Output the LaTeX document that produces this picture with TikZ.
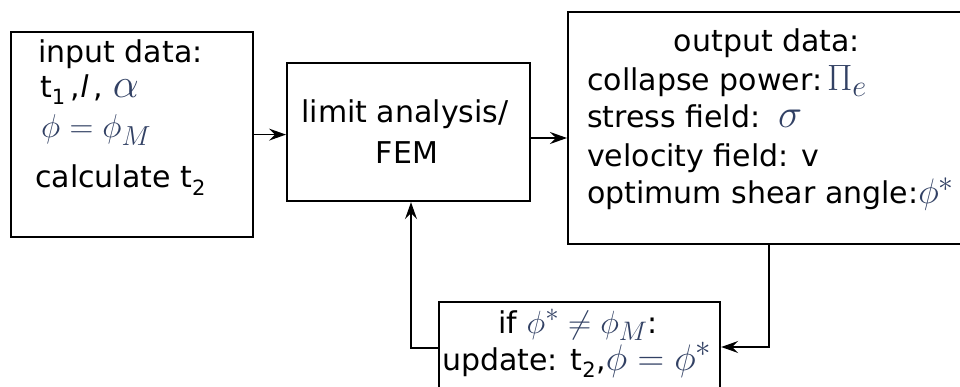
\documentclass[tikz,border=0pt]{standalone}
\usepackage{fontspec}
\setmainfont{DejaVu Sans}
\usetikzlibrary{arrows.meta}
\definecolor{mathc}{RGB}{50,65,100}
% coloured formula, set to a given width
\newcommand{\mw}[2]{\textcolor{mathc}{\resizebox{#1}{!}{$#2$}}}
\begin{document}
\begin{tikzpicture}[x=1pt,y=-1pt,
  box/.style={draw,line width=2.2pt,inner sep=0pt},
  link/.style={line width=1.3pt,-{Stealth[length=17pt,width=12pt,inset=6pt]}},
  txt/.style={font=\fontsize{30}{36}\selectfont,inner sep=0pt,anchor=base west},
  ctxt/.style={txt,anchor=base}]
\useasboundingbox (0,0) rectangle (960,387);
\begin{scope}
\clip (0,0) rectangle (960,387);
% boxes
\node[box,anchor=north west,minimum width=242pt,minimum height=205pt] (input) at (10,31) {};
\node[box,anchor=north west,minimum width=243pt,minimum height=138pt] (limit) at (286,62) {};
\node[box,anchor=north west,minimum width=408pt,minimum height=232pt] (output) at (567,11) {};
\node[box,anchor=north west,minimum width=281pt,minimum height=99pt] (update) at (438,301) {};
% texts of the input box
\node[txt] (in1) at (38,63) {input data:};
\node[txt] (in2) at (40,98) {t\textsubscript{1}\,,\textit{l}\,, \mw{26pt}{\alpha}};
\node[txt] (in3) at (41,138) {\mw{110pt}{\phi=\phi_M}};
\node[txt] (in4) at (35,188) {calculate t\textsubscript{2}};
% texts of the solver box
\node[ctxt] (l1) at (405,123) {limit analysis/};
\node[ctxt] (l2) at (407,164) {FEM};
% texts of the output box
\node[ctxt] (o1) at (767,52) {output data:};
\node[txt] (o2) at (587,91) {collapse power:\,\mw{40pt}{\Pi_e}};
\node[txt] (o3) at (587,128) {stress field:\, \mw{24pt}{\sigma}};
\node[txt] (o4) at (587,167) {velocity field: v};
\node[txt] (o5) at (587,204) {optimum shear angle:\mw{36pt}{\phi^*}};
% texts of the update box
\node[ctxt] (u1) at (578,333) {if \mw{121pt}{\phi^*\neq\phi_M}:};
\node[txt] (u2) at (442,370) {update: t\textsubscript{2},\mw{106pt}{\phi=\phi^*}};
% connectors
\coordinate (a2) at (529,138);
\coordinate (fb) at (769,347);
\coordinate (bk) at (411,348);
\draw[link] (input.east) -- (limit.west |- input.east);
\draw[link] (limit.east |- a2) -- (output.west |- a2);
\draw[link] (output.south -| fb) -- (fb) -- (update.east |- fb);
\draw[link] (update.west |- bk) -- (bk) -- (limit.south -| bk);
\end{scope}
\end{tikzpicture}
\end{document}
